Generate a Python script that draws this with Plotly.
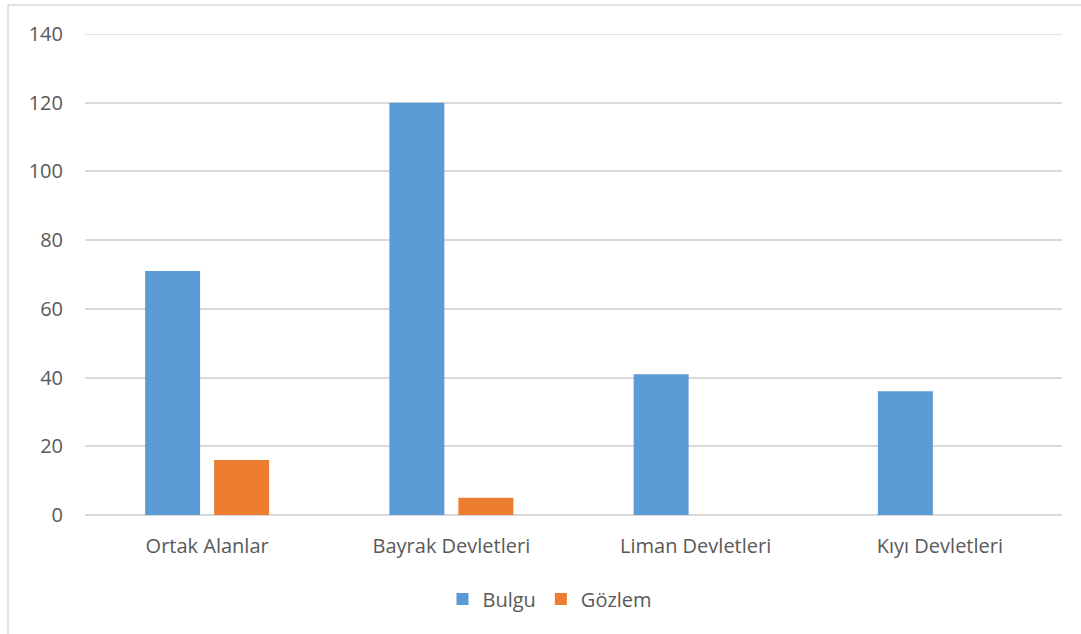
import plotly.graph_objects as go

categories = ["Ortak Alanlar", "Bayrak Devletleri", "Liman Devletleri", "Kıyı Devletleri"]
bulgu = [71, 120, 41, 36]
gozlem = [16, 5, 0, 0]
y_ticks = [0, 20, 40, 60, 80, 100, 120, 140]

W, H = 1081, 634
L, R, T, B = 85, 19, 34, 119
pw, ph = W - L - R, H - T - B

def px_x(x):
    return (x - L) / pw

def px_y(y):
    return (H - B - y) / ph

fig = go.Figure()
fig.add_trace(go.Bar(name="Bulgu", x=categories, y=bulgu, marker=dict(color="#5B9BD5", line=dict(width=0))))
fig.add_trace(go.Bar(name="Gözlem", x=categories, y=gozlem, marker=dict(color="#ED7D31", line=dict(width=0))))

font_family = "Open Sans"
fs = 20
fig.update_layout(
    width=W, height=H,
    margin=dict(l=L, r=R, t=T, b=B),
    paper_bgcolor="white", plot_bgcolor="white",
    barmode="group", bargap=0.435, bargroupgap=0.203,
    font=dict(family=font_family, size=fs, color="#595959"),
    showlegend=True,
    legend=dict(orientation="h", x=px_x(550), xanchor="center", y=px_y(599), yanchor="middle",
                font=dict(size=fs, color="#595959"), itemwidth=30, traceorder="normal"),
    xaxis=dict(showgrid=False, showline=False, ticks="", ticklabelstandoff=17,
               tickfont=dict(size=fs, color="#595959")),
    yaxis=dict(range=[0, 140], tickvals=y_ticks, showgrid=True, gridcolor="#D9D9D9", gridwidth=1.5,
               zeroline=True, zerolinecolor="#D9D9D9", zerolinewidth=1.5, showline=False, ticks="",
               ticklabelstandoff=21, tickfont=dict(size=fs, color="#595959")),
    shapes=[
        dict(type="rect", xref="paper", yref="paper",
             x0=px_x(8), x1=px_x(1083), y0=px_y(637), y1=px_y(5),
             line=dict(color="#D9D9D9", width=1.5), fillcolor="rgba(0,0,0,0)", layer="below"),
        dict(type="line", xref="paper", yref="y", x0=0, x1=1, y0=y_ticks[-1], y1=y_ticks[-1],
             line=dict(color="#D9D9D9", width=1.5), layer="below"),
    ],
)

fig.write_html("out.html")
